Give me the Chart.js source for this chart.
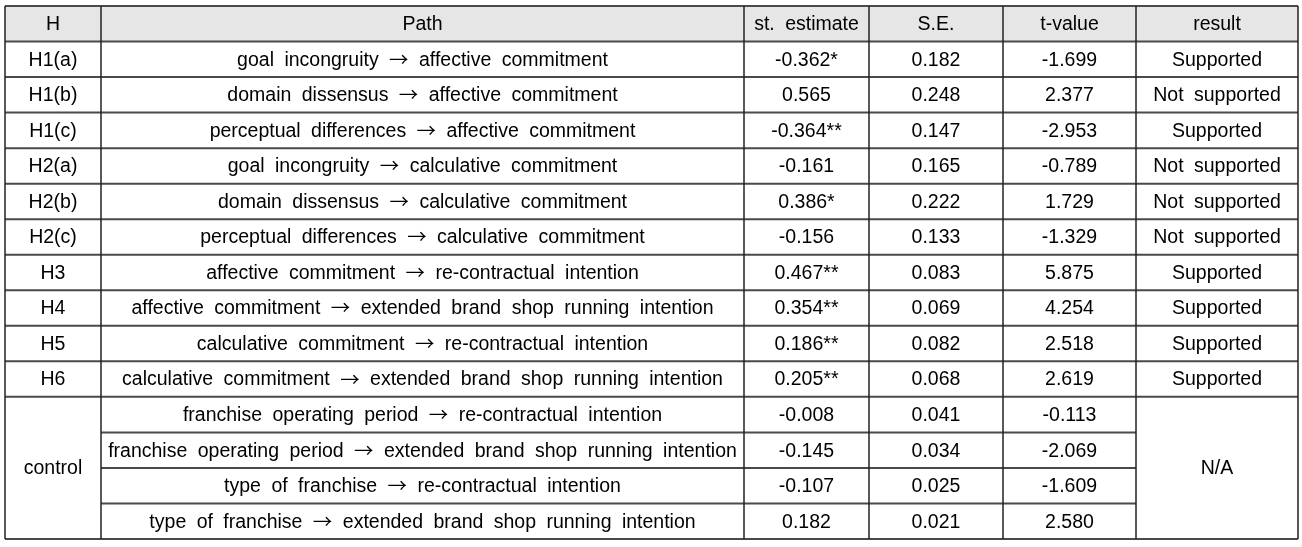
<!DOCTYPE html>
<html>
<head>
<meta charset="utf-8">
<script src="https://cdn.jsdelivr.net/npm/chart.js@4.4.0/dist/chart.umd.min.js"></script>
<style>
    html, body { margin: 0; padding: 0; background: #ffffff; }
    #wrap { width: 1302px; height: 547px; position: relative; }
</style>
</head>
<body>
<div id="wrap"><canvas id="tableChart"></canvas></div>
<script>
// Table content
const headers = ['H', 'Path', 'st. estimate', 'S.E.', 't-value', 'result'];
const hypotheses = ['H1(a)', 'H1(b)', 'H1(c)', 'H2(a)', 'H2(b)', 'H2(c)', 'H3', 'H4', 'H5', 'H6'];
const controlLabel = 'control';
const paths = [
    'goal incongruity → affective commitment',
    'domain dissensus → affective commitment',
    'perceptual differences → affective commitment',
    'goal incongruity → calculative commitment',
    'domain dissensus → calculative commitment',
    'perceptual differences → calculative commitment',
    'affective commitment → re-contractual intention',
    'affective commitment → extended brand shop running intention',
    'calculative commitment → re-contractual intention',
    'calculative commitment → extended brand shop running intention',
    'franchise operating period → re-contractual intention',
    'franchise operating period → extended brand shop running intention',
    'type of franchise → re-contractual intention',
    'type of franchise → extended brand shop running intention'
];
const estimates = ['-0.362*', '0.565', '-0.364**', '-0.161', '0.386*', '-0.156', '0.467**', '0.354**', '0.186**', '0.205**',
    '-0.008', '-0.145', '-0.107', '0.182'];
const standardErrors = ['0.182', '0.248', '0.147', '0.165', '0.222', '0.133', '0.083', '0.069', '0.082', '0.068',
    '0.041', '0.034', '0.025', '0.021'];
const tValues = ['-1.699', '2.377', '-2.953', '-0.789', '1.729', '-1.329', '5.875', '4.254', '2.518', '2.619',
    '-0.113', '-2.069', '-1.609', '2.580'];
const results = ['Supported', 'Not supported', 'Supported', 'Not supported', 'Not supported', 'Not supported',
    'Supported', 'Supported', 'Supported', 'Supported'];
const controlResult = 'N/A';

// Layout (column edges in table units, rows are unit height)
const colEdges = [0, 96, 739, 864, 998, 1131, 1293];
const rowCount = paths.length + 1;
const FONT = '19.5px "Liberation Sans", Arial, sans-serif';
const ARROW_FONT = '19.5px "Noto Sans CJK KR", sans-serif';

const tablePlugin = {
    id: 'tablePlugin',
    afterDraw(chart) {
        const ctx = chart.ctx;
        const xs = chart.scales.x;
        const ys = chart.scales.y;
        const px = v => xs.getPixelForValue(v);
        const py = v => ys.getPixelForValue(v);
        const nCols = colEdges.length - 1;
        const nHyp = hypotheses.length;

        ctx.save();
        // header background
        ctx.fillStyle = '#e6e6e6';
        ctx.fillRect(px(0), py(0), px(colEdges[nCols]) - px(0), py(1) - py(0));

        // text
        ctx.fillStyle = '#000000';
        ctx.textBaseline = 'middle';
        if ('wordSpacing' in ctx) ctx.wordSpacing = '5px';
        const cell = (text, col, rowTop, rowSpan) => {
            const cx = (px(colEdges[col]) + px(colEdges[col + 1])) / 2;
            const cy = (py(rowTop) + py(rowTop + (rowSpan || 1))) / 2 + 1;
            // split on the arrow so it can use a wider glyph
            const parts = text.split('→');
            const pieces = [];
            parts.forEach((p, i) => {
                if (i > 0) pieces.push({ t: '→', f: ARROW_FONT });
                if (p) pieces.push({ t: p, f: FONT });
            });
            let total = 0;
            pieces.forEach(pc => { ctx.font = pc.f; pc.w = ctx.measureText(pc.t).width; total += pc.w; });
            let x = cx - total / 2;
            ctx.textAlign = 'left';
            pieces.forEach(pc => {
                ctx.font = pc.f;
                ctx.fillText(pc.t, x, pc.f === ARROW_FONT ? cy - 1 : cy);
                x += pc.w;
            });
        };
        headers.forEach((h, i) => cell(h, i, 0));
        paths.forEach((p, i) => {
            const r = i + 1;
            if (i < nHyp) cell(hypotheses[i], 0, r);
            cell(p, 1, r);
            cell(estimates[i], 2, r);
            cell(standardErrors[i], 3, r);
            cell(tValues[i], 4, r);
            if (i < nHyp) cell(results[i], 5, r);
        });
        const ctrlRows = paths.length - nHyp;
        cell(controlLabel, 0, nHyp + 1, ctrlRows);
        cell(controlResult, 5, nHyp + 1, ctrlRows);

        // horizontal rules
        ctx.strokeStyle = '#4a4a4a';
        ctx.lineWidth = 2;
        for (let r = 0; r <= rowCount; r++) {
            const inControl = r > nHyp + 1 && r < rowCount;
            const x0 = inControl ? px(colEdges[1]) : px(0);
            const x1 = inControl ? px(colEdges[5]) : px(colEdges[nCols]);
            const y = py(r);
            ctx.beginPath();
            ctx.moveTo(x0, y);
            ctx.lineTo(x1, y);
            ctx.stroke();
        }
        // vertical rules
        ctx.strokeStyle = '#222222';
        ctx.lineWidth = 1.5;
        colEdges.forEach(e => {
            ctx.beginPath();
            ctx.moveTo(px(e), py(0));
            ctx.lineTo(px(e), py(rowCount));
            ctx.stroke();
        });
        ctx.restore();
    }
};

new Chart(document.getElementById('tableChart').getContext('2d'), {
    type: 'scatter',
    data: { datasets: [{ data: [] }] },
    options: {
        responsive: true,
        maintainAspectRatio: false,
        animation: false,
        layout: { padding: { left: 5, right: 4, top: 6, bottom: 8 } },
        plugins: { legend: { display: false }, tooltip: { enabled: false } },
        scales: {
            x: { type: 'linear', min: colEdges[0], max: colEdges[colEdges.length - 1], display: false },
            y: { type: 'linear', min: 0, max: rowCount, reverse: true, display: false }
        }
    },
    plugins: [tablePlugin]
});
</script>
</body>
</html>
